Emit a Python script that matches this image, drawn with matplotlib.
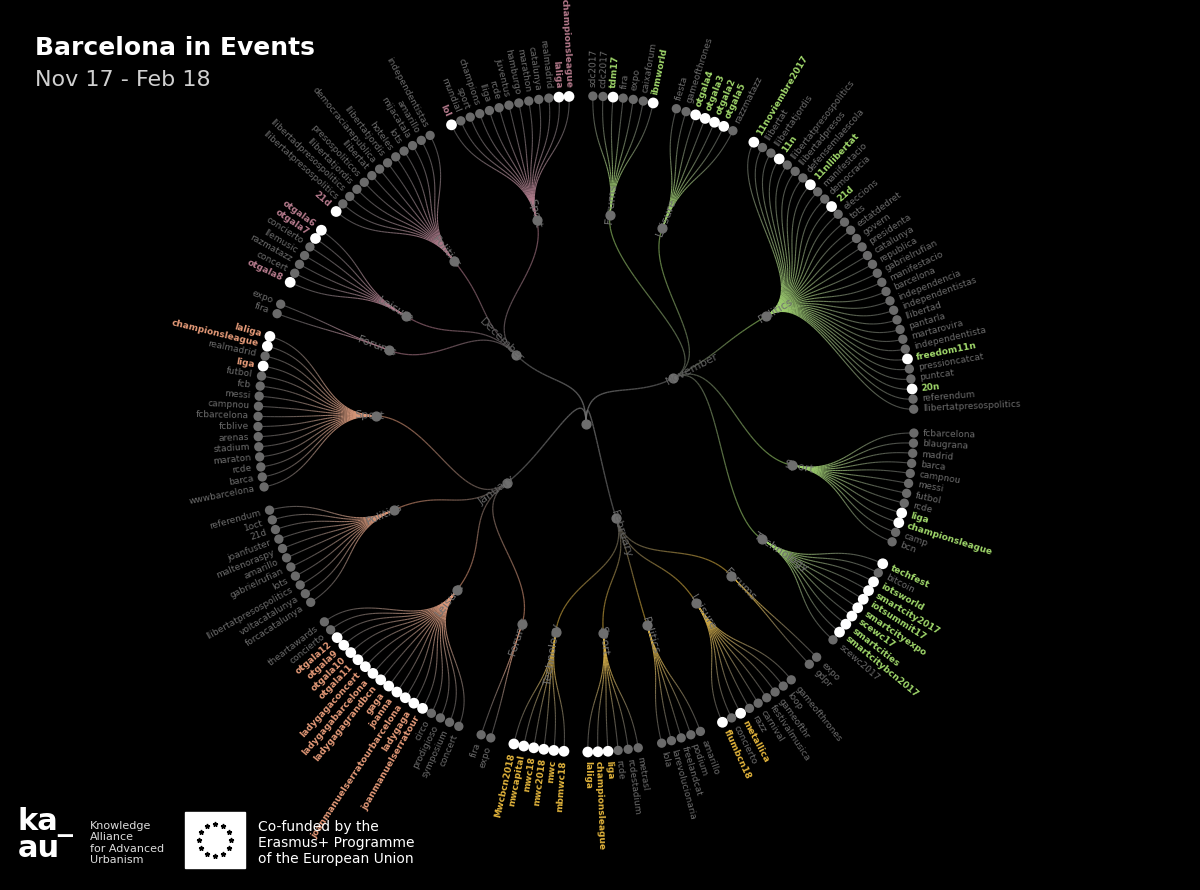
import matplotlib
matplotlib.use("Agg")
import matplotlib.pyplot as plt
from matplotlib.collections import LineCollection
from matplotlib.colors import to_rgba
import numpy as np

# months in clockwise order from the top, each with its topic groups and hashtags
# a leading "*" marks a trending (highlighted) hashtag
months = ["November", "February", "January", "December"]
month_colors = ["#9fd66a", "#e2b43c", "#e59a78", "#b57a8c"]

nov_groups = ["Forums", "Leisure", "Politics", "Sport", "Technology"]
nov_tags = [
    ["sdc2017", "cdc2017", "*tdm17", "fira", "expo", "caixaforum", "*ibmworld"],
    ["fiesta", "gameofthrones", "*otgala4", "*otgala3", "*otgala2", "*otgala5", "razzmatazz"],
    ["*11noviembre2017", "llibertat", "llibertatjordis", "*11n", "llibertatpresospolitics",
     "llibertadpresos", "defensemlaescola", "*11nllibertat", "manifestacio", "democracia",
     "*21d", "eleccions", "tots", "estatdedret", "govern", "presidenta", "catalunya",
     "republica", "gabrielrufian", "manifestacio", "barcelona", "independencia",
     "independentistas", "llibertad", "pantarla", "martarovira", "independentista",
     "*freedom11n", "pressioncatcat", "puntcat", "*20n", "referendum", "llibertatpresospolitics"],
    ["fcbarcelona", "blaugrana", "madrid", "barca", "campnou", "messi", "futbol", "rcde",
     "*liga", "*championsleague", "camp", "bcn"],
    ["*techfest", "bitcoin", "*iotsworld", "*smartcity2017", "*iotsummit17", "*smartcityexpo",
     "*scewc17", "*smartcities", "*smartcitybcn2017", "scewc2017"],
]
feb_groups = ["Forums", "Leisure", "Politics", "Sport", "Technology"]
feb_tags = [
    ["expo", "gdpr"],
    ["gameofthrones", "loop", "gameofthr", "festivalmusica", "carnival", "razz",
     "*metallica", "concierto", "*flumbcn18"],
    ["amarillo", "podium", "freelandcat", "larevolucionaria", "lola"],
    ["metrasl", "rcdestadium", "rcde", "*liga", "*championsleague", "*laliga"],
    ["*mbmwc18", "*mwc", "*mwc2018", "*mwc18", "*mwcapital", "*Mwcbcn2018"],
]
jan_groups = ["Forums", "Leisure", "Politics", "Sport"]
jan_tags = [
    ["expo", "fira"],
    ["concert", "symposium", "prodigioso", "circo", "*joanmanuelserratour", "*ladygaga",
     "*joanmanuelserratourbarcelona", "*joanna", "*gaga", "*ladygagagrandbcn",
     "*ladygagabarcelona", "*ladygagaconcert", "*otgala11", "*otgala10", "*otgala9",
     "*otgala12", "concierto", "theartawards"],
    ["forcacatalunya", "voltacatalunya", "llibertatpresospolitics", "lots", "gabrielrufian",
     "amarillo", "maltenoraspy", "joanfuster", "21d", "1oct", "referendum"],
    ["wwwbarcelona", "barca", "rcde", "maraton", "stadium", "arenas", "fcblive",
     "fcbarcelona", "campnou", "messi", "fcb", "futbol", "*liga", "realmadrid",
     "*championsleague", "*laliga"],
]
dec_groups = ["Forums", "Leisure", "Politics", "Sport"]
dec_tags = [
    ["fira", "expo"],
    ["*otgala8", "concert", "razmatazz", "llemusic", "concierto", "*otgala7", "*otgala6"],
    ["*21d", "llibertatpresospolitics", "llibertadpresospolitics", "llibertatjordis",
     "presospoliticos", "llibertat", "democraciarepublica", "llibertatjordis", "hoteles",
     "lots", "mijacatala", "amarillo", "independentistas"],
    ["*lol", "mundial", "sport", "champions", "lliga", "rcde", "juventus", "hamburgo",
     "marathon", "catalunya", "realmadrid", "*laliga", "*championsleague"],
]
all_groups = [nov_groups, feb_groups, jan_groups, dec_groups]
all_tags = [nov_tags, feb_tags, jan_tags, dec_tags]

CX, CY, R = 586, 424, 328
R_GROUP, R_MONTH = 0.64 * R, 0.30 * R

fig = plt.figure(figsize=(12, 8.9), dpi=100, facecolor="black")
ax = fig.add_axes([0, 0, 1, 1])
ax.set_xlim(0, 1200)
ax.set_ylim(890, 0)
ax.axis("off")
ax.set_facecolor("black")


def pos(a, r):
    t = np.radians(a)
    return CX + r * np.sin(t), CY - r * np.cos(t)


def link(a0, r0, a1, r1, c0, c1, lw=0.8):
    rm = (r0 + r1) / 2
    p = np.array([pos(a0, r0), pos(a0, rm), pos(a1, rm), pos(a1, r1)])
    t = np.linspace(0, 1, 40)[:, None]
    pts = ((1 - t) ** 3 * p[0] + 3 * (1 - t) ** 2 * t * p[1]
           + 3 * (1 - t) * t ** 2 * p[2] + t ** 3 * p[3])
    segs = np.stack([pts[:-1], pts[1:]], axis=1)
    k = np.linspace(0, 1, len(segs))[:, None]
    cols = (1 - k) * np.array(to_rgba(c0)) + k * np.array(to_rgba(c1))
    ax.add_collection(LineCollection(segs, colors=cols, linewidths=lw, zorder=1))


def radial_text(a, r, s, color, size=7, weight="normal"):
    x, y = pos(a, r)
    rot = 90 - a
    rot = (rot + 180) % 360 - 180
    ha = "left"
    if rot > 90 or rot < -90:
        rot += 180
        ha = "right"
    ax.text(x, y, s, color=color, fontsize=size, rotation=rot, ha=ha, va="center",
            rotation_mode="anchor", fontweight=weight)


n_leaves = sum(len(g) for m in all_tags for g in m)
n_groups = sum(len(m) for m in all_tags)
gap = 2.4
step = (360 - n_groups * gap) / n_leaves

a = gap / 2
for mi, month in enumerate(months):
    mcol = month_colors[mi]
    group_angles = []
    for gi, gname in enumerate(all_groups[mi]):
        tags = all_tags[mi][gi]
        leaf_angles = [a + i * step for i in range(len(tags))]
        a += len(tags) * step + gap
        ga = float(np.mean(leaf_angles))
        group_angles.append(ga)
        for la, tag in zip(leaf_angles, tags):
            hot = tag.startswith("*")
            name = tag.lstrip("*")
            link(ga, R_GROUP, la, R, to_rgba(mcol, 0.95), to_rgba("#8a8a8a", 0.5), 0.8)
            x, y = pos(la, R)
            ax.scatter(x, y, s=60 if hot else 45, color="white" if hot else "#6a6a6a",
                       edgecolors="none", zorder=3)
            radial_text(la, R + 9, name, mcol if hot else "#6c6c6c", 6.5,
                        "bold" if hot else "normal")
        gx, gy = pos(ga, R_GROUP)
        ax.scatter(gx, gy, s=40, color="#6e6e6e", zorder=3)
        radial_text(ga, R_GROUP - 8, gname, "#707070", 8)
    ma = float(np.mean(group_angles))
    for ga in group_angles:
        link(ma, R_MONTH, ga, R_GROUP, to_rgba("#555555", 0.8), to_rgba(mcol, 0.6), 0.9)
    link(0, 0, ma, R_MONTH, to_rgba("#777777", 0.8), to_rgba("#555555", 0.8), 1.0)
    mx, my = pos(ma, R_MONTH)
    ax.scatter(mx, my, s=40, color="#6e6e6e", zorder=3)
    radial_text(ma, R_MONTH - 8, month, "#626262", 8)

ax.scatter(CX, CY, s=40, color="#6e6e6e", zorder=3)

# header
ax.text(35, 48, "Barcelona in Events", color="white", fontsize=18, fontweight="bold",
        va="center")
ax.text(35, 80, "Nov 17 - Feb 18", color="#d0d0d0", fontsize=16, va="center")

# footer logos
ax.text(18, 835, "ka_\nau", color="white", fontsize=22, fontweight="bold",
        va="center", linespacing=0.9)
ax.text(90, 843, "Knowledge\nAlliance\nfor Advanced\nUrbanism", color="#dddddd",
        fontsize=8, va="center", linespacing=1.15)
ax.add_patch(plt.Rectangle((185, 812), 60, 56, color="white"))
for k in range(12):
    t = 2 * np.pi * k / 12
    ax.plot(215 + 16 * np.cos(t), 840 + 16 * np.sin(t), marker="*", color="black",
            markersize=3.5)
ax.text(258, 843, "Co-funded by the\nErasmus+ Programme\nof the European Union",
        color="white", fontsize=10, va="center", linespacing=1.2)

fig.savefig("out.png", dpi=100, facecolor="black")
